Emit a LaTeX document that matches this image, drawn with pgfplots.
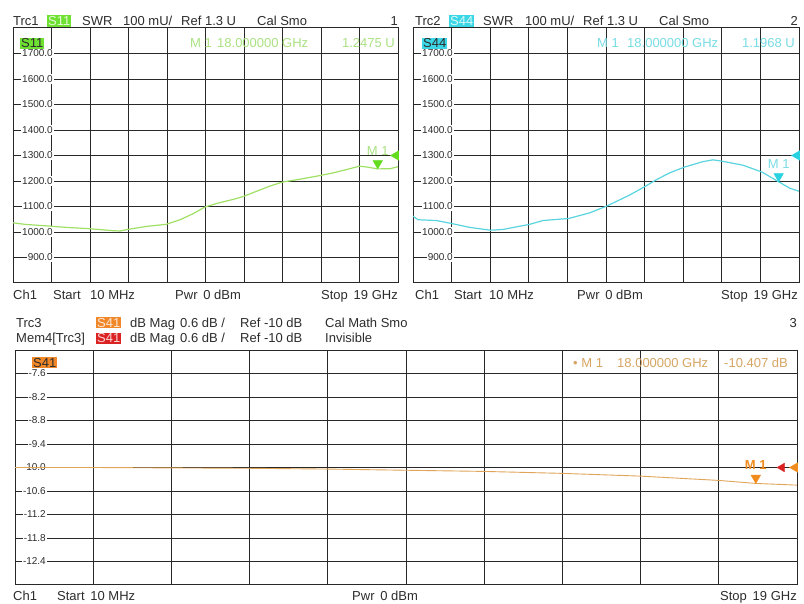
\documentclass[border=0pt]{standalone}
\usepackage{fontspec}
\setmainfont{Liberation Sans}
\usepackage{pgfplots}
\pgfplotsset{compat=1.18}

\definecolor{gridc}{RGB}{40,40,40}
\definecolor{txt}{RGB}{45,45,45}
\definecolor{trgreen}{RGB}{160,224,100}
\definecolor{mkgreen}{RGB}{100,220,30}
\definecolor{boxgreen}{RGB}{110,225,50}
\definecolor{rdgreen}{RGB}{170,225,130}
\definecolor{trcyan}{RGB}{90,212,222}
\definecolor{mkcyan}{RGB}{40,210,225}
\definecolor{boxcyan}{RGB}{60,215,230}
\definecolor{rdcyan}{RGB}{120,220,228}
\definecolor{trorange}{RGB}{225,165,90}
\definecolor{mkorange}{RGB}{240,140,30}
\definecolor{boxorange}{RGB}{240,135,40}
\definecolor{boxred}{RGB}{220,35,35}
\definecolor{rdorange}{RGB}{215,165,100}

\newcommand\hf{\fontsize{13}{15}\selectfont}
% header text at (x, baseline), in px from the top left
\newcommand\hd[4][base west]{\node[anchor=#1, inner sep=0pt, text=txt, font=\hf] at (#2pt,-#3pt) {#4};}
\newcommand\tag[5]{\node[anchor=base west, fill=#4, text=#5, inner sep=1pt, font=\hf] at (#1pt,-#2pt) {#3};}

\pgfplotsset{
  vna/.style={
    scale only axis, anchor=north west,
    xmin=0.01, xmax=19,
    xtick={0.01,1.909,3.808,5.707,7.606,9.505,11.404,13.303,15.202,17.101,19},
    xticklabels={},
    major tick length=0pt,
    grid=major,
    grid style={gridc, line width=0.9pt},
    axis line style={gridc, line width=1pt},
    scaled y ticks=false,
    /pgf/number format/fixed,
    /pgf/number format/fixed zerofill,
    /pgf/number format/precision=1,
    /pgf/number format/1000 sep={},
    /pgf/number format/assume math mode=true,
    yticklabel style={font=\fontsize{10}{12}\selectfont, text=txt, fill=white, inner sep=1pt, anchor=east},
    clip mode=individual,
  },
}

\begin{document}
\begin{tikzpicture}
\fill[white] (0,0) rectangle (804pt,-604pt);
\path[use as bounding box] (0,0) rectangle (804pt,-604pt);

% ---------- Trc1 S11 ----------
\begin{axis}[vna, at={(13pt,-28pt)}, width=385pt, height=255pt,
  ymin=800, ymax=1800, ytick={900,1000,...,1700},
  yticklabel style={xshift=41pt}]
\addplot[trgreen, line width=1.2pt] coordinates {
(0.01,1036) (0.6,1030) (1.83,1023) (2.66,1018) (3.77,1013) (4.96,1005)
(5.29,1004) (5.67,1010) (6.6,1022) (7.56,1030) (8.25,1048) (8.9,1072)
(9.48,1098) (10.06,1112) (10.88,1128) (11.4,1140) (12.03,1160) (12.68,1180)
(13.31,1196) (14.16,1207) (15.2,1222) (15.81,1232) (16.47,1245) (17.09,1258)
(17.45,1255) (18.0,1247.5) (18.6,1248) (19.0,1256)};
\addplot[only marks, mark=triangle*, mark size=5.5pt,
  mark options={yshift=5.5pt, rotate=180, fill=mkgreen, draw=mkgreen}] coordinates {(18,1247.5)};
\addplot[only marks, mark=triangle*, mark size=5.5pt,
  mark options={xshift=-2pt, rotate=90, fill=mkgreen, draw=mkgreen}] coordinates {(19,1300)};
\node[anchor=south, text=rdgreen, font=\fontsize{13}{15}\selectfont, yshift=10pt] at (axis cs:18,1247.5) {M 1};
\end{axis}

% ---------- Trc2 S44 ----------
\begin{axis}[vna, at={(413pt,-28pt)}, width=386pt, height=255pt,
  ymin=800, ymax=1800, ytick={900,1000,...,1700},
  yticklabel style={xshift=41pt}]
\addplot[trcyan, line width=1.2pt] coordinates {
(0.01,1062) (0.26,1048) (1.16,1045) (1.93,1033) (2.8,1018) (3.83,1007)
(4.44,1010) (5.75,1030) (6.41,1045) (7.67,1053) (8.7,1075) (9.55,1102)
(10.67,1145) (11.46,1180) (11.98,1205) (12.64,1232) (13.38,1255) (14.28,1276)
(14.77,1283) (15.26,1277) (16.24,1262) (17.18,1235) (18.0,1196.8) (18.54,1172)
(19.0,1160)};
\addplot[only marks, mark=triangle*, mark size=5.5pt,
  mark options={yshift=5.5pt, rotate=180, fill=mkcyan, draw=mkcyan}] coordinates {(18,1196.8)};
\addplot[only marks, mark=triangle*, mark size=5.5pt,
  mark options={xshift=-2pt, rotate=90, fill=mkcyan, draw=mkcyan}] coordinates {(19,1300)};
\node[anchor=south, text=rdcyan, font=\fontsize{13}{15}\selectfont, yshift=10pt] at (axis cs:18,1196.8) {M 1};
\end{axis}

% ---------- Trc3 S41 ----------
\begin{axis}[vna, at={(15pt,-350pt)}, width=782pt, height=235pt,
  ymin=-13, ymax=-7, ytick={-12.4,-11.8,-11.2,-10.6,-10,-9.4,-8.8,-8.2,-7.6},
  yticklabel style={xshift=32pt}]
\addplot[trorange, line width=0.9pt] coordinates {
(0.01,-10.00) (1.9,-10.00) (3.8,-10.01) (5.7,-10.02) (7.6,-10.04) (9.5,-10.07)
(11.4,-10.10) (13.3,-10.15) (15.2,-10.22) (17.1,-10.33) (18.0,-10.407) (19.0,-10.45)};
\addplot[only marks, mark=triangle*, mark size=5.5pt,
  mark options={yshift=5.5pt, rotate=180, fill=mkorange, draw=mkorange}] coordinates {(18,-10.407)};
\addplot[only marks, mark=triangle*, mark size=5pt,
  mark options={xshift=-15pt, rotate=90, fill=boxred, draw=boxred}] coordinates {(19,-10)};
\addplot[only marks, mark=triangle*, mark size=5.5pt,
  mark options={xshift=-2pt, rotate=90, fill=mkorange, draw=mkorange}] coordinates {(19,-10)};
\node[anchor=south, text=mkorange, font=\fontsize{13}{15}\selectfont\bfseries, yshift=10pt] at (axis cs:18,-10.407) {M 1};
\end{axis}

% ---------- texts ----------
\hd{13}{25.5}{Trc1}
\tag{47}{25.5}{S11}{boxgreen}{white!80!boxgreen}
\hd{82}{25.5}{SWR}
\hd{123}{25.5}{100 mU/}
\hd{181}{25.5}{Ref 1.3 U}
\hd{257}{25.5}{Cal Smo}
\hd[base east]{398}{25.5}{1}
\tag{20}{48}{S11}{boxgreen}{txt}
\node[anchor=base west, inner sep=0pt, text=rdgreen, font=\hf] at (190pt,-48pt) {M 1};
\node[anchor=base west, inner sep=0pt, text=rdgreen, font=\hf] at (217pt,-48pt) {18.000000 GHz};
\node[anchor=base east, inner sep=0pt, text=rdgreen, font=\hf] at (395pt,-48pt) {1.2475 U};

\hd{415}{25.5}{Trc2}
\tag{449}{25.5}{S44}{boxcyan}{white!80!boxcyan}
\hd{483}{25.5}{SWR}
\hd{525}{25.5}{100 mU/}
\hd{583}{25.5}{Ref 1.3 U}
\hd{659}{25.5}{Cal Smo}
\hd[base east]{798}{25.5}{2}
\tag{422}{48}{S44}{boxcyan}{txt}
\node[anchor=base west, inner sep=0pt, text=rdcyan, font=\hf] at (597pt,-48pt) {M 1};
\node[anchor=base west, inner sep=0pt, text=rdcyan, font=\hf] at (627pt,-48pt) {18.000000 GHz};
\node[anchor=base east, inner sep=0pt, text=rdcyan, font=\hf] at (795pt,-48pt) {1.1968 U};

\hd{13}{300}{Ch1}
\hd{53}{300}{Start}
\hd{90}{300}{10 MHz}
\hd{175}{300}{Pwr\, 0 dBm}
\hd[base east]{398}{300}{Stop\, 19 GHz}
\hd{415}{300}{Ch1}
\hd{454}{300}{Start}
\hd{489}{300}{10 MHz}
\hd{577}{300}{Pwr\, 0 dBm}
\hd[base east]{798}{300}{Stop\, 19 GHz}

\hd{16}{327}{Trc3}
\tag{96}{327}{S41}{boxorange}{white!80!boxorange}
\hd{130}{327}{dB Mag}
\hd{180}{327}{0.6 dB /}
\hd{240}{327}{Ref -10 dB}
\hd{325}{327}{Cal Math Smo}
\hd[base east]{797}{327}{3}
\hd{16}{343}{Mem4[Trc3]}
\tag{96}{343}{S41}{boxred}{white!80!boxred}
\hd{130}{343}{dB Mag}
\hd{180}{343}{0.6 dB /}
\hd{240}{343}{Ref -10 dB}
\hd{325}{343}{Invisible}
\tag{32}{367}{S41}{boxorange}{txt}
\node[anchor=base west, inner sep=0pt, text=rdorange, font=\hf] at (573pt,-367pt) {• M 1};
\node[anchor=base west, inner sep=0pt, text=rdorange, font=\hf] at (617pt,-367pt) {18.000000 GHz};
\node[anchor=base east, inner sep=0pt, text=rdorange, font=\hf] at (788pt,-367pt) {-10.407 dB};

\hd{13}{600}{Ch1}
\hd{57}{600}{Start\, 10 MHz}
\hd{352}{600}{Pwr\, 0 dBm}
\hd[base east]{797}{600}{Stop\, 19 GHz}
\end{tikzpicture}
\end{document}
